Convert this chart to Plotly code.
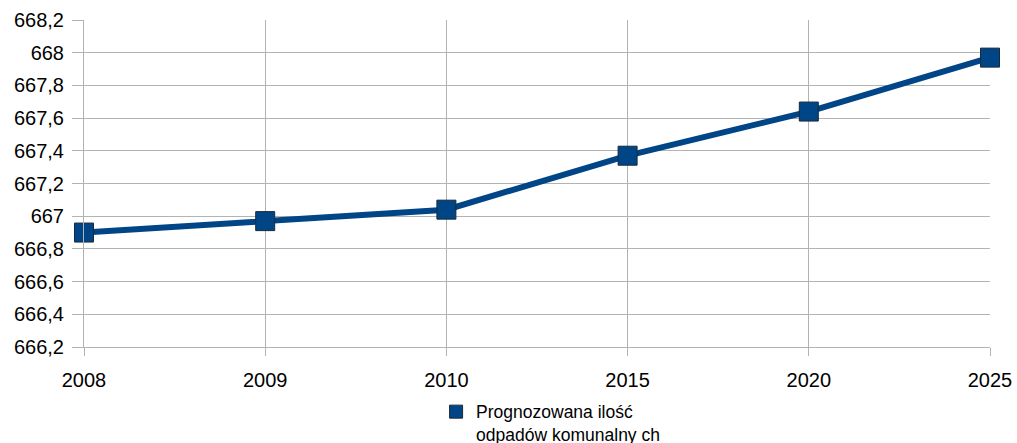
import plotly.graph_objects as go

years = ["2008", "2009", "2010", "2015", "2020", "2025"]
values = [666.90, 666.97, 667.04, 667.37, 667.64, 667.97]
series_name = "Prognozowana ilość<br>odpadów komunalny ch"
y_ticks = [666.2, 666.4, 666.6, 666.8, 667.0, 667.2, 667.4, 667.6, 667.8, 668.0, 668.2]
y_tick_labels = ["666,2", "666,4", "666,6", "666,8", "667", "667,2", "667,4", "667,6", "667,8", "668", "668,2"]

COLOR = "#004586"

fig = go.Figure()
fig.add_trace(go.Scatter(
    x=years, y=values, mode="lines+markers", name=series_name,
    line=dict(color=COLOR, width=6),
    marker=dict(symbol="square", size=19, color=COLOR,
                line=dict(color="#1a2a3a", width=1)),
    cliponaxis=False, showlegend=False,
))
# legend-only entry with a small square symbol like the reference
fig.add_trace(go.Scatter(
    x=[None], y=[None], mode="markers", name=series_name,
    marker=dict(symbol="square", size=13, color=COLOR,
                line=dict(color="#1a2a3a", width=1)),
    showlegend=True,
))

fig.update_layout(
    width=1017, height=443,
    margin=dict(l=84, r=27, t=20, b=96, autoexpand=False),
    paper_bgcolor="white", plot_bgcolor="white",
    font=dict(family="Liberation Sans, Arial, sans-serif", color="#000000", size=20),
    showlegend=True,
    legend=dict(orientation="h", x=0.515, xanchor="center", y=-0.143, yanchor="top",
                font=dict(size=17.5), bgcolor="rgba(0,0,0,0)", valign="top",
                itemwidth=30, tracegroupgap=0),
)
fig.update_xaxes(
    type="category", range=[0, 5], showgrid=True, gridcolor="#b3b3b3", gridwidth=1,
    showline=True, linecolor="#b3b3b3", ticks="outside", ticklen=8, tickcolor="#b3b3b3",
    tickfont=dict(size=20), zeroline=False, fixedrange=True, automargin=False,
    ticklabelstandoff=7,
)
fig.update_yaxes(
    range=[666.2, 668.2], tickvals=y_ticks, ticktext=y_tick_labels,
    showgrid=True, gridcolor="#b3b3b3", gridwidth=1,
    showline=True, linecolor="#b3b3b3", ticks="outside", ticklen=11, tickcolor="#b3b3b3",
    tickfont=dict(size=20), zeroline=False, fixedrange=True, automargin=False,
    ticklabelstandoff=4,
)

fig.write_html(
    "out.html",
    config={"displayModeBar": False, "staticPlot": True},
    post_script="document.body.style.margin='0';document.body.style.overflow='hidden';",
)
